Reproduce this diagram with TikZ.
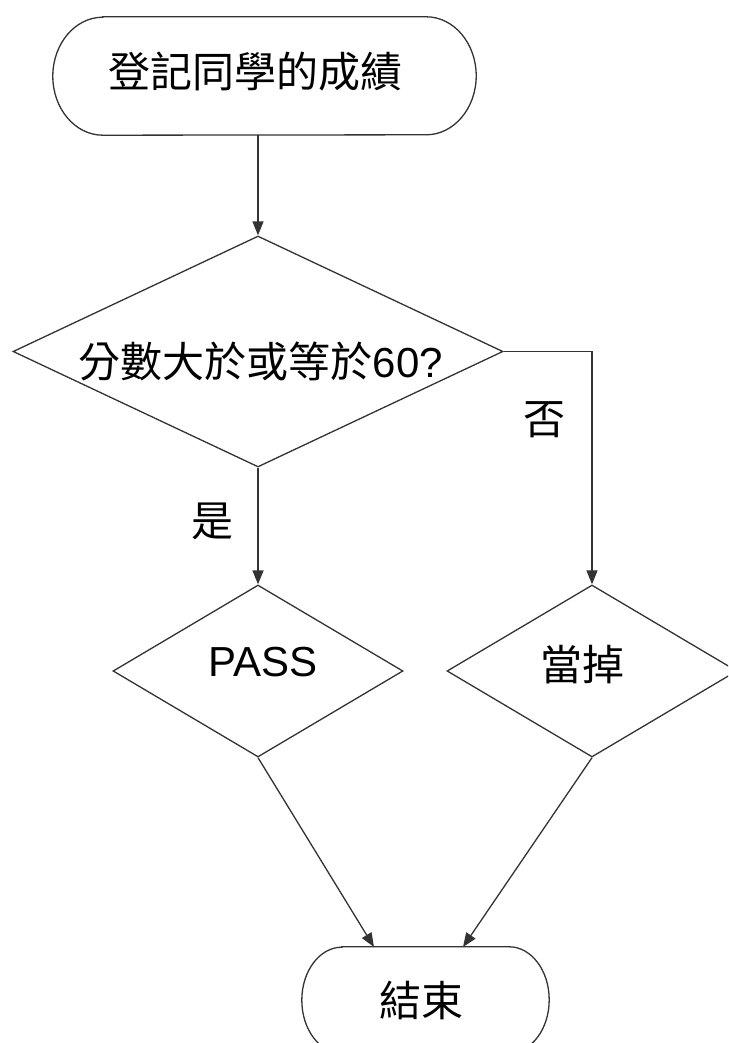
\documentclass[tikz,border=0pt]{standalone}
\usepackage{fontspec}
\setmainfont{Liberation Sans}
\newfontfamily\cjk{Noto Sans CJK TC}
\usetikzlibrary{shapes.geometric,arrows.meta}
\definecolor{linec}{gray}{0.2}
\tikzset{
  ln/.style={draw=linec, line width=1.3pt},
  arr/.style={ln, -{Triangle[length=14pt,width=11pt]}},
  dia/.style={shape=diamond, ln, inner sep=0pt},
  box/.style={shape=rectangle, inner sep=0pt, draw=none},
  txt/.style={inner sep=0pt, font=\fontsize{42}{48}\selectfont},
}
\begin{document}
\begin{tikzpicture}[x=1pt,y=-1pt]
\useasboundingbox (0,0) rectangle (728,1043);
\clip (0,0) rectangle (728,1043);
\fill[white] (0,0) rectangle (728,1043);
% start terminator
\node[box, minimum width=423pt, minimum height=118pt] (start) at (264.5,76) {};
\draw[ln] ([xshift=50pt]start.north west) -- ([xshift=-50pt]start.north east)
  arc[start angle=90, end angle=-90, x radius=50pt, y radius=59pt]
  -- ([xshift=50pt]start.south west)
  arc[start angle=270, end angle=90, x radius=50pt, y radius=59pt] -- cycle;
\node[txt] (tstart) at (255,72) {\cjk 登記同學的成績};
% decision
\node[dia, minimum width=490pt, minimum height=231pt] (d1) at (258,351.5) {};
\node[txt] (td1) at (261,361) {\cjk 分數大於或等於\rmfamily 60?};
% PASS
\node[dia, minimum width=290pt, minimum height=172pt] (d2) at (258,671) {};
\node[txt] (td2) at (263,662) {PASS};
% fail
\node[dia, minimum width=290pt, minimum height=172pt] (d3) at (592,671) {};
\node[txt] (td3) at (582,665) {\cjk 當掉};
% end terminator
\node[box, minimum width=247pt, minimum height=106pt] (end) at (425.5,1000) {};
\draw[ln] ([xshift=40pt]end.north west) -- ([xshift=-40pt]end.north east)
  arc[start angle=90, end angle=-90, x radius=40pt, y radius=53pt]
  -- ([xshift=40pt]end.south west)
  arc[start angle=270, end angle=90, x radius=40pt, y radius=53pt] -- cycle;
\node[txt] (tend) at (421,1000) {\cjk 結束};
\coordinate (e1) at (374,947);
\coordinate (e2) at (463,947);
% connectors
\draw[arr] (start.south -| d1.north) -- (d1.north);
\draw[arr] (d1.south) -- (d2.north);
\draw[arr] (d1.east) -- (d1.east -| d3.north) -- (d3.north);
\draw[arr] (d2.south) -- (e1);
\draw[arr] (d3.south) -- (e2);
% labels
\node[txt] (yes) at (212,521) {\cjk 是};
\node[txt] (no) at (544,420) {\cjk 否};
\end{tikzpicture}
\end{document}
